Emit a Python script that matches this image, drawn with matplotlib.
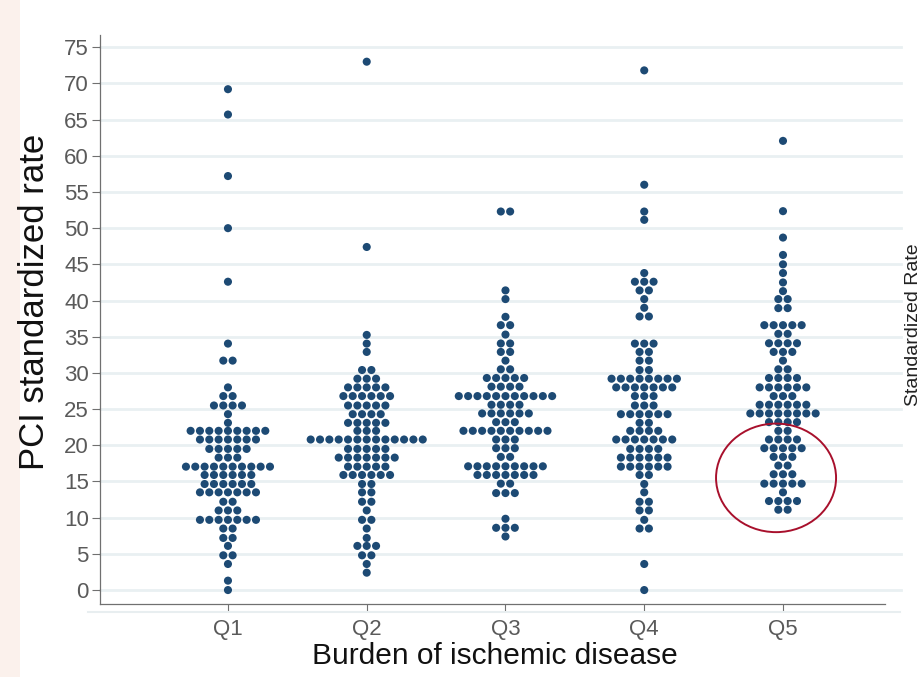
import numpy as np
import matplotlib
matplotlib.use("Agg")
from matplotlib import pyplot as plt
from matplotlib.patches import Ellipse, Rectangle
from matplotlib.lines import Line2D

plt.rcParams["font.family"] = ["Liberation Sans", "DejaVu Sans"]

groups = ["Q1", "Q2", "Q3", "Q4", "Q5"]

# each group: binned row levels (rate) and number of dots in that row
q1_levels = [69.2, 65.7, 57.2, 50.0, 42.6, 34.05, 31.7, 28.0, 26.8, 25.5, 24.3, 23.1, 22.0, 20.8, 19.5,
             18.3, 17.05, 15.9, 14.65, 13.5, 12.2, 11.0, 9.7, 8.5, 7.2, 6.1, 4.8, 3.6, 1.3, 0.0]
q1_counts = [1, 1, 1, 1, 1, 1, 2, 1, 2, 4, 1, 1, 9, 7, 5, 3, 10, 6, 6, 7, 2, 3, 7, 2, 2, 1, 2, 1, 1, 1]

q2_levels = [73.0, 47.4, 35.25, 34.05, 32.9, 30.4, 29.2, 28.0, 26.8, 25.5, 24.3, 23.1, 22.0, 20.8, 19.5,
             18.3, 17.05, 15.9, 14.65, 13.5, 12.2, 11.0, 9.7, 8.5, 7.2, 6.1, 4.8, 3.6, 2.4]
q2_counts = [1, 1, 1, 1, 1, 2, 3, 5, 6, 5, 4, 5, 3, 13, 5, 7, 5, 6, 2, 2, 2, 1, 2, 1, 1, 3, 2, 1, 1]

q3_levels = [52.3, 41.4, 40.2, 37.75, 36.6, 35.3, 34.07, 32.9, 31.7, 30.5, 29.3, 28.1, 26.8, 25.6, 24.4,
             23.2, 22.0, 20.8, 19.6, 18.4, 17.1, 15.9, 14.7, 13.4, 9.85, 8.6, 7.4]
q3_counts = [2, 1, 1, 1, 2, 1, 2, 2, 1, 2, 5, 4, 11, 4, 6, 3, 10, 3, 3, 2, 9, 7, 2, 3, 1, 3, 1]

q4_levels = [71.8, 56.0, 52.3, 51.15, 43.8, 42.6, 41.4, 40.2, 39.0, 37.8, 34.05, 32.9, 31.7, 30.4, 29.2,
             28.0, 26.8, 25.5, 24.3, 23.1, 22.0, 20.8, 19.5, 18.3, 17.05, 15.9, 14.65, 13.5, 12.2, 11.0,
             9.7, 8.5, 3.6, 0.0]
q4_counts = [1, 1, 1, 1, 1, 3, 2, 1, 1, 2, 3, 2, 2, 2, 8, 7, 3, 3, 6, 2, 4, 7, 4, 6, 6, 2, 1, 1, 2, 2,
             1, 2, 1, 1]

q5_levels = [62.06, 52.35, 48.7, 46.3, 45.0, 43.8, 42.5, 41.3, 40.2, 38.95, 36.6, 35.4, 34.1, 32.9, 31.7,
             30.5, 29.3, 28.0, 26.8, 25.6, 24.4, 23.2, 22.0, 20.8, 19.6, 18.4, 17.2, 16.0, 14.7, 13.5,
             12.3, 11.1]
q5_counts = [1, 1, 1, 1, 1, 1, 1, 1, 2, 2, 5, 2, 4, 3, 1, 2, 4, 6, 3, 6, 8, 4, 2, 4, 5, 3, 2, 3, 5, 1,
             4, 2]

yticks = list(range(0, 80, 5))

dot_color = "#1d4a74"
grid_color = "#e9f0f2"
tick_color = "#5a5a5a"
step = 0.0673  # horizontal distance between neighbouring dots (data units)

fig = plt.figure(figsize=(9.23, 6.77), dpi=100)
fig.patch.set_facecolor("white")

# slide background bits
fig.patches.append(Rectangle((0, 0), 0.022, 1, transform=fig.transFigure,
                             facecolor="#fbf1ec", edgecolor="none", zorder=-5))
fig.lines.append(Line2D([0.095, 0.975], [1 - 612 / 677, 1 - 612 / 677], transform=fig.transFigure,
                        color="#e8eef0", lw=1.5))

ax = fig.add_axes([0.1083, 0.1078, 0.8505, 0.8402])
ax.set_facecolor("white")

all_levels = [q1_levels, q2_levels, q3_levels, q4_levels, q5_levels]
all_counts = [q1_counts, q2_counts, q3_counts, q4_counts, q5_counts]
for gi, (levels, counts) in enumerate(zip(all_levels, all_counts)):
    xs, ys = [], []
    for lev, n in zip(levels, counts):
        for k in range(n):
            xs.append(gi + (k - (n - 1) / 2) * step)
            ys.append(lev)
    ax.scatter(xs, ys, s=34, color=dot_color, edgecolors="none", zorder=3)

ax.set_xlim(-0.9225, 4.735)
ax.set_ylim(-1.93, 76.66)

for t in yticks:
    ax.axhline(t, xmin=0, xmax=1.02, color=grid_color, lw=2, zorder=0, clip_on=False)

ax.set_yticks(yticks)
ax.set_yticklabels([str(t) for t in yticks], fontsize=16, color=tick_color)
ax.set_xticks(range(len(groups)))
ax.set_xticklabels(groups, fontsize=16, color=tick_color)
ax.tick_params(axis="both", color="#707070", length=6, width=0.8)
ax.tick_params(axis="x", pad=5)
ax.tick_params(axis="y", pad=2)

for side in ["top", "right"]:
    ax.spines[side].set_visible(False)
for side in ["left", "bottom"]:
    ax.spines[side].set_color("#707070")
    ax.spines[side].set_linewidth(0.9)

ax.set_ylabel("PCI standardized rate", fontsize=25, color="#111111")
ax.yaxis.set_label_coords(-0.062, 0.531)
ax.set_xlabel("Burden of ischemic disease", fontsize=21.5, color="#111111")
ax.xaxis.set_label_coords(0.503, -0.066)

# highlight circle around the low tail of Q5
ax.add_patch(Ellipse((3.95, 15.5), 0.865, 15.0, fill=False, edgecolor="#a8102c", lw=1.4, zorder=4))

# edge of neighbouring panel title, cut off in the original screenshot
fig.text(0.99, 0.52, "Standardized Rate", rotation=90, fontsize=14, color="#222222",
         ha="center", va="center")

fig.savefig("out.png", dpi=100, facecolor=fig.get_facecolor())
